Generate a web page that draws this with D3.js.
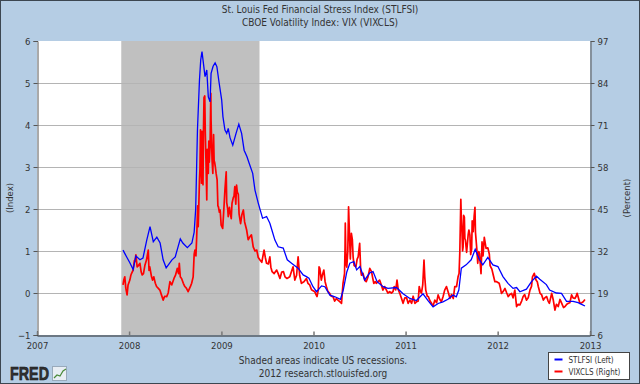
<!DOCTYPE html>
<html><head><meta charset="utf-8">
<script src="https://cdn.jsdelivr.net/npm/d3@7"></script>
<style>
html,body{margin:0;padding:0;background:#fff;}
svg text{font-family:'DejaVu Sans Condensed','DejaVu Sans',sans-serif;fill:#333;}
</style></head>
<body>
<svg id="chart" width="640" height="384"></svg>
<script>
// ---------- DATA ----------
const titles = ["St. Louis Fed Financial Stress Index (STLFSI)", "CBOE Volatility Index: VIX (VIXCLS)"];
const leftTicks = [-1, 0, 1, 2, 3, 4, 5, 6];
const rightTicks = [6, 19, 32, 45, 58, 71, 84, 97];
const yearTicks = [2007, 2008, 2009, 2010, 2011, 2012, 2013];
const recession = ["2007-12-01", "2009-06-01"];

const stlfsiDates = ["2007-12-08","2007-12-23","2008-01-04","2008-01-17","2008-01-28","2008-02-13","2008-02-25","2008-03-11","2008-03-24","2008-04-06","2008-04-20","2008-05-03","2008-05-15","2008-05-27","2008-06-19","2008-07-02","2008-07-22","2008-08-01","2008-08-19","2008-09-06","2008-09-15","2008-09-21","2008-09-28","2008-10-06","2008-10-11","2008-10-16","2008-10-20","2008-10-28","2008-11-04","2008-11-10","2008-11-17","2008-11-21","2008-11-29","2008-12-07","2008-12-14","2008-12-23","2009-01-02","2009-01-07","2009-01-15","2009-01-22","2009-01-28","2009-02-04","2009-02-15","2009-02-28","2009-03-11","2009-03-22","2009-04-01","2009-04-12","2009-04-21","2009-05-05","2009-05-14","2009-05-27","2009-06-13","2009-06-29","2009-07-12","2009-07-20","2009-08-01","2009-08-14","2009-09-03","2009-09-19","2009-10-06","2009-10-19","2009-11-01","2009-11-21","2009-12-04","2009-12-14","2009-12-30","2010-01-13","2010-02-02","2010-02-15","2010-03-07","2010-03-27","2010-04-18","2010-04-29","2010-05-13","2010-05-25","2010-06-10","2010-06-21","2010-07-04","2010-07-23","2010-08-12","2010-08-25","2010-09-10","2010-10-04","2010-10-23","2010-11-26","2010-12-22","2011-01-18","2011-02-13","2011-03-11","2011-03-31","2011-04-20","2011-05-10","2011-05-29","2011-06-18","2011-07-08","2011-07-21","2011-07-31","2011-08-10","2011-08-29","2011-09-18","2011-10-04","2011-10-21","2011-11-03","2011-11-23","2011-12-13","2012-01-02","2012-01-22","2012-02-11","2012-03-02","2012-03-16","2012-03-29","2012-04-24","2012-05-14","2012-06-03","2012-06-16","2012-07-12","2012-07-25","2012-08-21","2012-09-10","2012-09-30","2012-10-26","2012-11-15","2012-11-29","2012-12-12"];
const stlfsiValues = [1.02,0.85,0.72,0.56,0.88,0.79,0.83,1.26,1.58,1.22,1.33,1.19,0.79,0.60,0.79,0.86,1.29,1.19,1.08,1.19,1.45,2.00,3.88,5.07,5.55,5.75,5.55,5.15,5.31,4.67,4.55,5.23,5.40,5.48,5.39,5.00,4.60,4.20,3.88,3.80,3.92,3.70,3.52,3.80,4.02,3.80,3.40,3.25,3.09,2.85,2.45,2.14,1.78,1.82,1.66,1.50,1.26,1.10,1.07,0.79,0.71,0.65,0.59,0.43,0.39,0.35,0.15,0.03,0.17,0.15,-0.05,-0.09,-0.15,0.07,0.50,0.71,0.75,0.55,0.63,0.31,0.48,0.51,0.27,0.15,0.11,0.13,-0.02,-0.13,-0.18,-0.02,-0.18,-0.33,-0.25,-0.21,-0.15,-0.05,-0.09,0.07,0.59,0.67,0.79,1.04,0.79,0.67,0.85,0.67,0.63,0.39,0.23,0.11,0.13,0.03,0.09,0.27,0.40,0.33,0.20,0.07,0.00,-0.01,-0.20,-0.20,-0.23,-0.27,-0.31];

const vixDates = ["2007-12-08","2007-12-11","2007-12-15","2007-12-19","2007-12-24","2007-12-28","2008-01-04","2008-01-08","2008-01-11","2008-01-17","2008-01-22","2008-01-24","2008-01-28","2008-02-02","2008-02-07","2008-02-13","2008-02-18","2008-02-22","2008-02-27","2008-03-04","2008-03-10","2008-03-17","2008-03-20","2008-03-23","2008-03-30","2008-04-03","2008-04-08","2008-04-14","2008-04-19","2008-04-25","2008-05-02","2008-05-08","2008-05-15","2008-05-21","2008-05-29","2008-06-04","2008-06-11","2008-06-18","2008-06-27","2008-07-03","2008-07-10","2008-07-15","2008-07-18","2008-07-22","2008-07-27","2008-08-03","2008-08-09","2008-08-15","2008-08-22","2008-09-01","2008-09-05","2008-09-11","2008-09-15","2008-09-18","2008-09-22","2008-09-25","2008-09-29","2008-10-01","2008-10-03","2008-10-06","2008-10-08","2008-10-10","2008-10-14","2008-10-16","2008-10-20","2008-10-22","2008-10-24","2008-10-27","2008-10-29","2008-11-01","2008-11-04","2008-11-06","2008-11-10","2008-11-12","2008-11-14","2008-11-17","2008-11-20","2008-11-21","2008-11-25","2008-11-28","2008-12-01","2008-12-03","2008-12-05","2008-12-08","2008-12-11","2008-12-15","2008-12-18","2008-12-20","2008-12-24","2008-12-27","2008-12-31","2009-01-06","2009-01-09","2009-01-12","2009-01-15","2009-01-20","2009-01-22","2009-01-26","2009-01-28","2009-02-02","2009-02-04","2009-02-09","2009-02-12","2009-02-17","2009-02-20","2009-02-23","2009-02-27","2009-03-02","2009-03-05","2009-03-09","2009-03-12","2009-03-18","2009-03-23","2009-03-29","2009-04-03","2009-04-11","2009-04-17","2009-04-24","2009-04-30","2009-05-07","2009-05-14","2009-05-21","2009-05-27","2009-06-03","2009-06-10","2009-06-19","2009-06-24","2009-06-29","2009-07-06","2009-07-12","2009-07-16","2009-07-21","2009-07-29","2009-08-08","2009-08-14","2009-08-21","2009-08-28","2009-09-04","2009-09-10","2009-09-18","2009-09-29","2009-10-05","2009-10-12","2009-10-19","2009-10-26","2009-11-01","2009-11-07","2009-11-14","2009-11-24","2009-12-04","2009-12-10","2009-12-17","2009-12-24","2010-01-06","2010-01-11","2010-01-15","2010-01-20","2010-01-23","2010-01-26","2010-02-01","2010-02-05","2010-02-11","2010-02-16","2010-02-21","2010-02-27","2010-03-06","2010-03-12","2010-03-19","2010-03-26","2010-04-02","2010-04-08","2010-04-15","2010-04-22","2010-04-28","2010-05-04","2010-05-06","2010-05-07","2010-05-10","2010-05-13","2010-05-17","2010-05-20","2010-05-24","2010-05-27","2010-05-31","2010-06-04","2010-06-07","2010-06-11","2010-06-18","2010-06-23","2010-06-27","2010-07-03","2010-07-07","2010-07-10","2010-07-16","2010-07-23","2010-07-29","2010-08-05","2010-08-12","2010-08-19","2010-08-24","2010-08-28","2010-09-03","2010-09-07","2010-09-14","2010-09-20","2010-09-27","2010-10-03","2010-10-10","2010-10-17","2010-10-23","2010-10-30","2010-11-06","2010-11-12","2010-11-17","2010-11-23","2010-11-28","2010-12-03","2010-12-09","2010-12-15","2010-12-22","2010-12-29","2011-01-05","2011-01-11","2011-01-18","2011-01-25","2011-01-31","2011-02-07","2011-02-14","2011-02-20","2011-02-24","2011-03-01","2011-03-05","2011-03-10","2011-03-15","2011-03-18","2011-03-22","2011-03-28","2011-04-01","2011-04-08","2011-04-14","2011-04-20","2011-04-27","2011-05-04","2011-05-10","2011-05-17","2011-05-23","2011-05-30","2011-06-05","2011-06-12","2011-06-16","2011-06-20","2011-06-26","2011-07-02","2011-07-09","2011-07-15","2011-07-22","2011-07-28","2011-08-01","2011-08-04","2011-08-08","2011-08-10","2011-08-12","2011-08-15","2011-08-17","2011-08-19","2011-08-22","2011-08-24","2011-08-26","2011-08-31","2011-09-06","2011-09-09","2011-09-13","2011-09-16","2011-09-20","2011-09-22","2011-09-26","2011-09-30","2011-10-03","2011-10-05","2011-10-10","2011-10-14","2011-10-18","2011-10-21","2011-10-27","2011-10-31","2011-11-04","2011-11-09","2011-11-16","2011-11-23","2011-11-29","2011-12-02","2011-12-09","2011-12-15","2011-12-21","2011-12-28","2012-01-07","2012-01-12","2012-01-16","2012-01-23","2012-01-30","2012-02-06","2012-02-12","2012-02-18","2012-02-25","2012-03-02","2012-03-09","2012-03-16","2012-03-22","2012-03-29","2012-04-05","2012-04-11","2012-04-17","2012-04-24","2012-05-01","2012-05-08","2012-05-14","2012-05-18","2012-05-25","2012-06-01","2012-06-06","2012-06-10","2012-06-17","2012-06-23","2012-06-30","2012-07-06","2012-07-13","2012-07-19","2012-07-24","2012-08-02","2012-08-08","2012-08-15","2012-08-21","2012-08-28","2012-09-04","2012-09-11","2012-09-18","2012-09-24","2012-10-01","2012-10-07","2012-10-13","2012-10-20","2012-10-26","2012-11-02","2012-11-07","2012-11-11","2012-11-16","2012-11-22","2012-11-29","2012-12-05","2012-12-12"];
const vixValues = [
  21.5,23.0,24.0,20.5,18.4,21.5, 23.0,24.5,25.1,26.1,29.0,28.7,30.8, 27.1,27.5,28.2,25.5,24.6,25.0, 27.7,29.2,32.3,26.0,27.1,24.0, 23.0,24.0,22.0,21.0,20.5, 19.9,18.5,16.8,18.0,17.9, 19.0,22.5,21.5,23.5, 24.5,26.6,25.0,28.2,24.0,23.5, 22.0,21.0,20.5,19.4, 21.2,22.0,24.0,
  31.0,32.3,30.5,36.4,46.0, 39.5,45.0,54.0,57.5,69.5,53.0,69.0,52.5,69.5,79.5,80.0,69.0, 59.1,47.8,63.5,56.0,66.0,59.5,64.3,80.8,72.5,60.0,56.0, 68.0,60.0,59.5,58.0,56.0,54.0,46.0,45.7,44.0,44.7,40.0,
  39.0,42.8,46.8,51.0,56.5,47.0,45.0,42.6, 45.5,44.2,42.0,46.8,48.5,49.0,51.9,46.5, 52.4,50.2,49.5,43.5,40.5,43.2,44.7, 41.0,38.5,35.5,36.4,37.0, 33.3,32.0,32.3,30.0, 29.2,28.5,32.3,30.0,28.2, 28.0,30.2,27.0,25.6,25.0, 26.1,25.0,23.5,25.5, 25.6,24.0,23.5,24.0, 25.5,27.1,23.0,24.5, 30.2,24.5,22.0,22.5, 23.5,22.0,21.5,20.0,
  19.4,18.5,17.9,20.0,27.1,26.6, 23.0,24.5,26.1,22.5,21.0,19.5, 18.9,18.0,17.9,16.5, 17.3,16.8,16.3,15.8,22.0, 25.0,32.8,40.6,28.0,27.0,32.0,45.7,36.4,29.5,37.5, 35.5,30.2,27.5,27.1,29.5,30.2, 34.4,26.1,24.5,25.1,23.0,22.5, 24.0,26.6,25.6,23.5,22.0, 22.5,22.0,22.5,23.0,21.5, 19.9,21.0,19.9,19.0,19.4, 19.0,19.4,21.0,20.0,23.0, 20.0,18.9,17.5,15.8,17.5,
  17.5,15.8,16.8,15.8,18.0, 15.8,16.3,16.5,21.0, 19.4,19.0,21.5,29.2,24.0,19.9,18.0, 17.9,16.5,15.8,15.0,16.8, 16.0,18.4,17.0,16.3,18.0, 19.9,21.0,20.0,19.0,17.3, 18.5,17.3,21.0,21.0,24.0, 25.0,31.7,48.0,42.0,39.0,32.0,33.3,43.0,42.5,35.9,35.4,31.6, 37.0,38.5,36.9,30.9,32.7,41.3,38.0,43.0, 45.5,37.8,33.0,28.2,31.8,31.3,25.0,34.8, 30.5,36.2,32.8,33.0,31.0, 27.5,26.4,24.4,22.5,22.5,
  22.0,20.5,18.9,19.5,20.4, 19.0,17.9,18.5,18.9, 17.5,19.9,14.8,15.5,15.3, 16.5,17.9,18.5,16.8, 17.5,19.9,21.0,24.0,25.1, 23.0,22.5,21.0,18.9,18.5,16.8, 17.5,17.9,16.5,15.8, 18.9,17.0,13.7,15.5,14.8, 17.0,15.8,14.5,14.8, 15.5,15.8,16.0,18.4,17.5, 17.3,18.0,18.9,17.5,15.8,16.0, 16.3,17.0];

const footer = ["Shaded areas indicate US recessions.", "2012 research.stlouisfed.org"];
const legendLabels = ["STLFSI (Left)", "VIXCLS (Right)"];
const seriesColors = ["#0000ff", "#ff0000"];

// ---------- DRAW ----------
const W = 640, H = 384;
const plot = {l: 37, r: 590, t: 41, b: 335};
const svg = d3.select("#chart");
const parse = d3.timeParse("%Y-%m-%d");

svg.append("rect").attr("x", 0.5).attr("y", 0.5).attr("width", W - 1).attr("height", H - 1)
  .attr("fill", "#b5cde4").attr("stroke", "#3c4650");

const x = d3.scaleTime().domain([new Date(2007, 0, 1), new Date(2013, 0, 1)]).range([plot.l, plot.r]);
const yL = d3.scaleLinear().domain([-1, 6]).range([plot.b, plot.t]);
const yR = d3.scaleLinear().domain([6, 97]).range([plot.b, plot.t]);

svg.append("rect").attr("x", plot.l).attr("y", plot.t).attr("width", plot.r - plot.l).attr("height", plot.b - plot.t).attr("fill", "#fff");

// recession
svg.append("rect").attr("x", x(parse(recession[0]))).attr("y", plot.t)
  .attr("width", x(parse(recession[1])) - x(parse(recession[0]))).attr("height", plot.b - plot.t)
  .attr("fill", "#c0c0c0");

// gridlines
svg.append("g").selectAll("line").data(leftTicks.filter(d => d > -1 && d < 6)).join("line")
  .attr("x1", plot.l).attr("x2", plot.r).attr("y1", d => yL(d) + 0.5).attr("y2", d => yL(d) + 0.5)
  .attr("stroke", "#b4b4b4").attr("stroke-width", 1);

// left axis
const gl = svg.append("g").attr("transform", `translate(${plot.l + 0.5},0)`)
  .call(d3.axisLeft(yL).tickValues(leftTicks).tickSize(4).tickPadding(3).tickFormat(d3.format("d")));
gl.select(".domain").attr("stroke", "#555");
gl.selectAll(".tick line").attr("stroke", "#555");
gl.selectAll("text").style("font-size", "9.5px").attr("fill", "#333");

// right axis
const gr = svg.append("g").attr("transform", `translate(${plot.r + 0.5},0)`)
  .call(d3.axisRight(yR).tickValues(rightTicks).tickSize(4).tickPadding(3).tickFormat(d3.format("d")));
gr.select(".domain").attr("stroke", "#555");
gr.selectAll(".tick line").attr("stroke", "#555");
gr.selectAll("text").style("font-size", "9.5px").attr("fill", "#333");

// bottom axis
const gb = svg.append("g").attr("transform", `translate(0,${plot.b + 0.5})`)
  .call(d3.axisBottom(x).tickValues(yearTicks.map(yr => new Date(yr, 0, 1))).tickSize(-4).tickPadding(7).tickFormat(d3.timeFormat("%Y")));
gb.select(".domain").attr("stroke", "#222");
gb.selectAll(".tick line").attr("stroke", "#777").attr("stroke-width", 1.5);
gb.selectAll("text").style("font-size", "9.5px").attr("fill", "#333");

// series
const vix = vixDates.map((d, i) => ({d: parse(d), v: vixValues[i]})).filter(p => p.v != null);
const stl = stlfsiDates.map((d, i) => ({d: parse(d), v: stlfsiValues[i]}));
svg.append("path").datum(vix).attr("fill", "none").attr("stroke", seriesColors[1]).attr("stroke-width", 1.7)
  .attr("stroke-linejoin", "round")
  .attr("d", d3.line().x(p => x(p.d)).y(p => yR(p.v)));
svg.append("path").datum(stl).attr("fill", "none").attr("stroke", seriesColors[0]).attr("stroke-width", 1.3)
  .attr("d", d3.line().x(p => x(p.d)).y(p => yL(p.v)));

// titles
svg.selectAll(".title").data(titles).join("text").attr("class", "title")
  .attr("x", 320).attr("y", (d, i) => 13 + i * 13).attr("text-anchor", "middle").style("font-size", "10px").text(d => d);

// axis titles
svg.append("text").attr("transform", `translate(13,${(plot.t + plot.b) / 2 + 10}) rotate(-90)`)
  .attr("text-anchor", "middle").style("font-size", "9.5px").text("(Index)");
svg.append("text").attr("transform", `translate(630,${(plot.t + plot.b) / 2 + 10}) rotate(-90)`)
  .attr("text-anchor", "middle").style("font-size", "9.5px").text("(Percent)");

// footer
svg.selectAll(".foot").data(footer).join("text").attr("class", "foot")
  .attr("x", 323).attr("y", (d, i) => 364 + i * 13).attr("text-anchor", "middle").style("font-size", "10px").text(d => d);

// legend
const lg = svg.append("g").attr("transform", "translate(548.5,352.5)");
lg.append("rect").attr("width", 81).attr("height", 27).attr("fill", "#fff").attr("stroke", "#444");
legendLabels.forEach((t, i) => {
  lg.append("line").attr("x1", 6).attr("x2", 14).attr("y1", 7 + i * 12).attr("y2", 7 + i * 12)
    .attr("stroke", seriesColors[i]).attr("stroke-width", 2);
  lg.append("text").attr("x", 20).attr("y", 10 + i * 12).style("font-size", "8px").text(t);
});

// FRED logo
const logo = svg.append("g").attr("transform", "translate(10,363)");
logo.append("text").attr("x", 0).attr("y", 17).style("font-family", "'Liberation Sans',Arial,sans-serif")
  .style("font-size", "19px").style("font-weight", "bold").attr("fill", "#111")
  .attr("stroke", "#111").attr("stroke-width", 0.6)
  .attr("textLength", 39).attr("lengthAdjust", "spacingAndGlyphs").text("FRED");
logo.append("rect").attr("x", 42.5).attr("y", 3.5).attr("width", 14).attr("height", 14).attr("fill", "#e8eef4").attr("stroke", "#9ab");
logo.append("path").attr("d", "M44,15 L47,12 L50,13 L53,8 L56,6").attr("fill", "none").attr("stroke", "#4a8a3a").attr("stroke-width", 1.2);
</script>
</body></html>
